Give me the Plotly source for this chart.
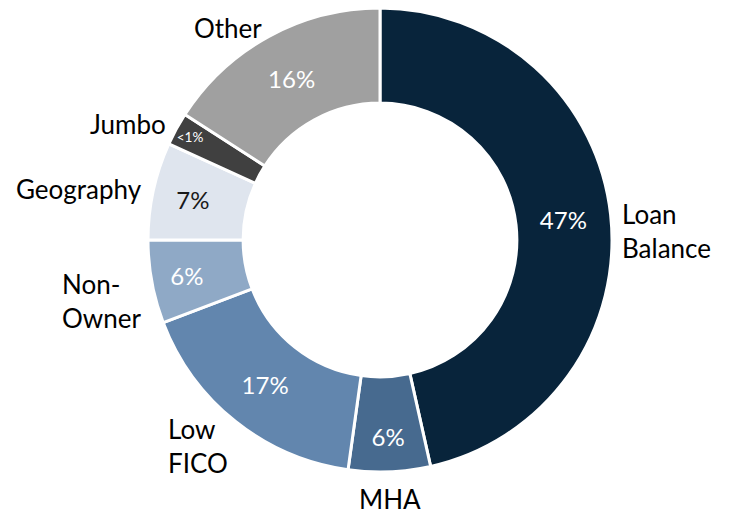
import math
import plotly.graph_objs as go

# segment shares (clockwise from 12 o'clock)
segments = ['Loan<br>Balance', 'MHA', 'Low<br>FICO', 'Non-<br>Owner', 'Geography', 'Jumbo', 'Other']
shares = [46.5, 5.7, 17.0, 5.8, 6.8, 2.3, 15.9]
pct_labels = ['47%', '6%', '17%', '6%', '7%', '<1%', '16%']
colors = ['#08243b', '#476a8f', '#6286ae', '#8fa9c6', '#dfe5ee', '#404040', '#a0a0a0']
text_colors = ['white', 'white', 'white', 'white', '#1a1a1a', 'white', 'white']
text_sizes = [24, 24, 24, 24, 24, 15, 24]

W, H = 738, 517
font_name = 'Lato'
# donut box in pixels
left, right, top, bottom = 148, 612, 8, 472
cx, cy = (left + right) / 2, (top + bottom) / 2
rad = (right - left) / 2

pie = go.Pie(
    labels=segments,
    values=shares,
    text=pct_labels,
    textinfo='text',
    textposition='inside',
    insidetextorientation='horizontal',
    insidetextfont=dict(family=font_name, color=text_colors, size=text_sizes),
    marker=dict(colors=colors, line=dict(color='white', width=3)),
    hole=0.59,
    sort=False,
    direction='clockwise',
    rotation=0,
    hoverinfo='none',
    domain=dict(x=[left / W, right / W], y=[1 - bottom / H, 1 - top / H]))

# category labels outside the ring, first line centred on each slice's mid angle
annotations = []
total = sum(shares)
cum = 0
for name, v in zip(segments, shares):
    mid = (cum + v / 2) / total * 2 * math.pi
    cum += v
    s, c = math.sin(mid), math.cos(mid)
    R = rad * 1.04
    px, py = cx + R * s, cy - R * c
    if abs(s) < 0.3:
        xa = 'center'
    else:
        xa = 'left' if s > 0 else 'right'
    if abs(c) > 0.95:
        ya = 'bottom' if c > 0 else 'top'
        shift = 0
    else:
        ya = 'middle'
        shift = -17 * name.count('<br>')
    annotations.append(dict(
        x=px / W, y=1 - py / H, xref='paper', yref='paper',
        text=name, showarrow=False, xanchor=xa, yanchor=ya, align='left',
        yshift=shift,
        font=dict(family=font_name, size=26, color='black')))

fig = go.Figure(data=[pie],
                layout=go.Layout(
                    width=W, height=H,
                    showlegend=False,
                    paper_bgcolor='white',
                    plot_bgcolor='white',
                    margin=dict(b=0, l=0, r=0, t=0),
                    annotations=annotations,
                    font=dict(family=font_name)))

fig.write_html("out.html", config={'displayModeBar': False},
               post_script="document.body.style.margin='0';")
